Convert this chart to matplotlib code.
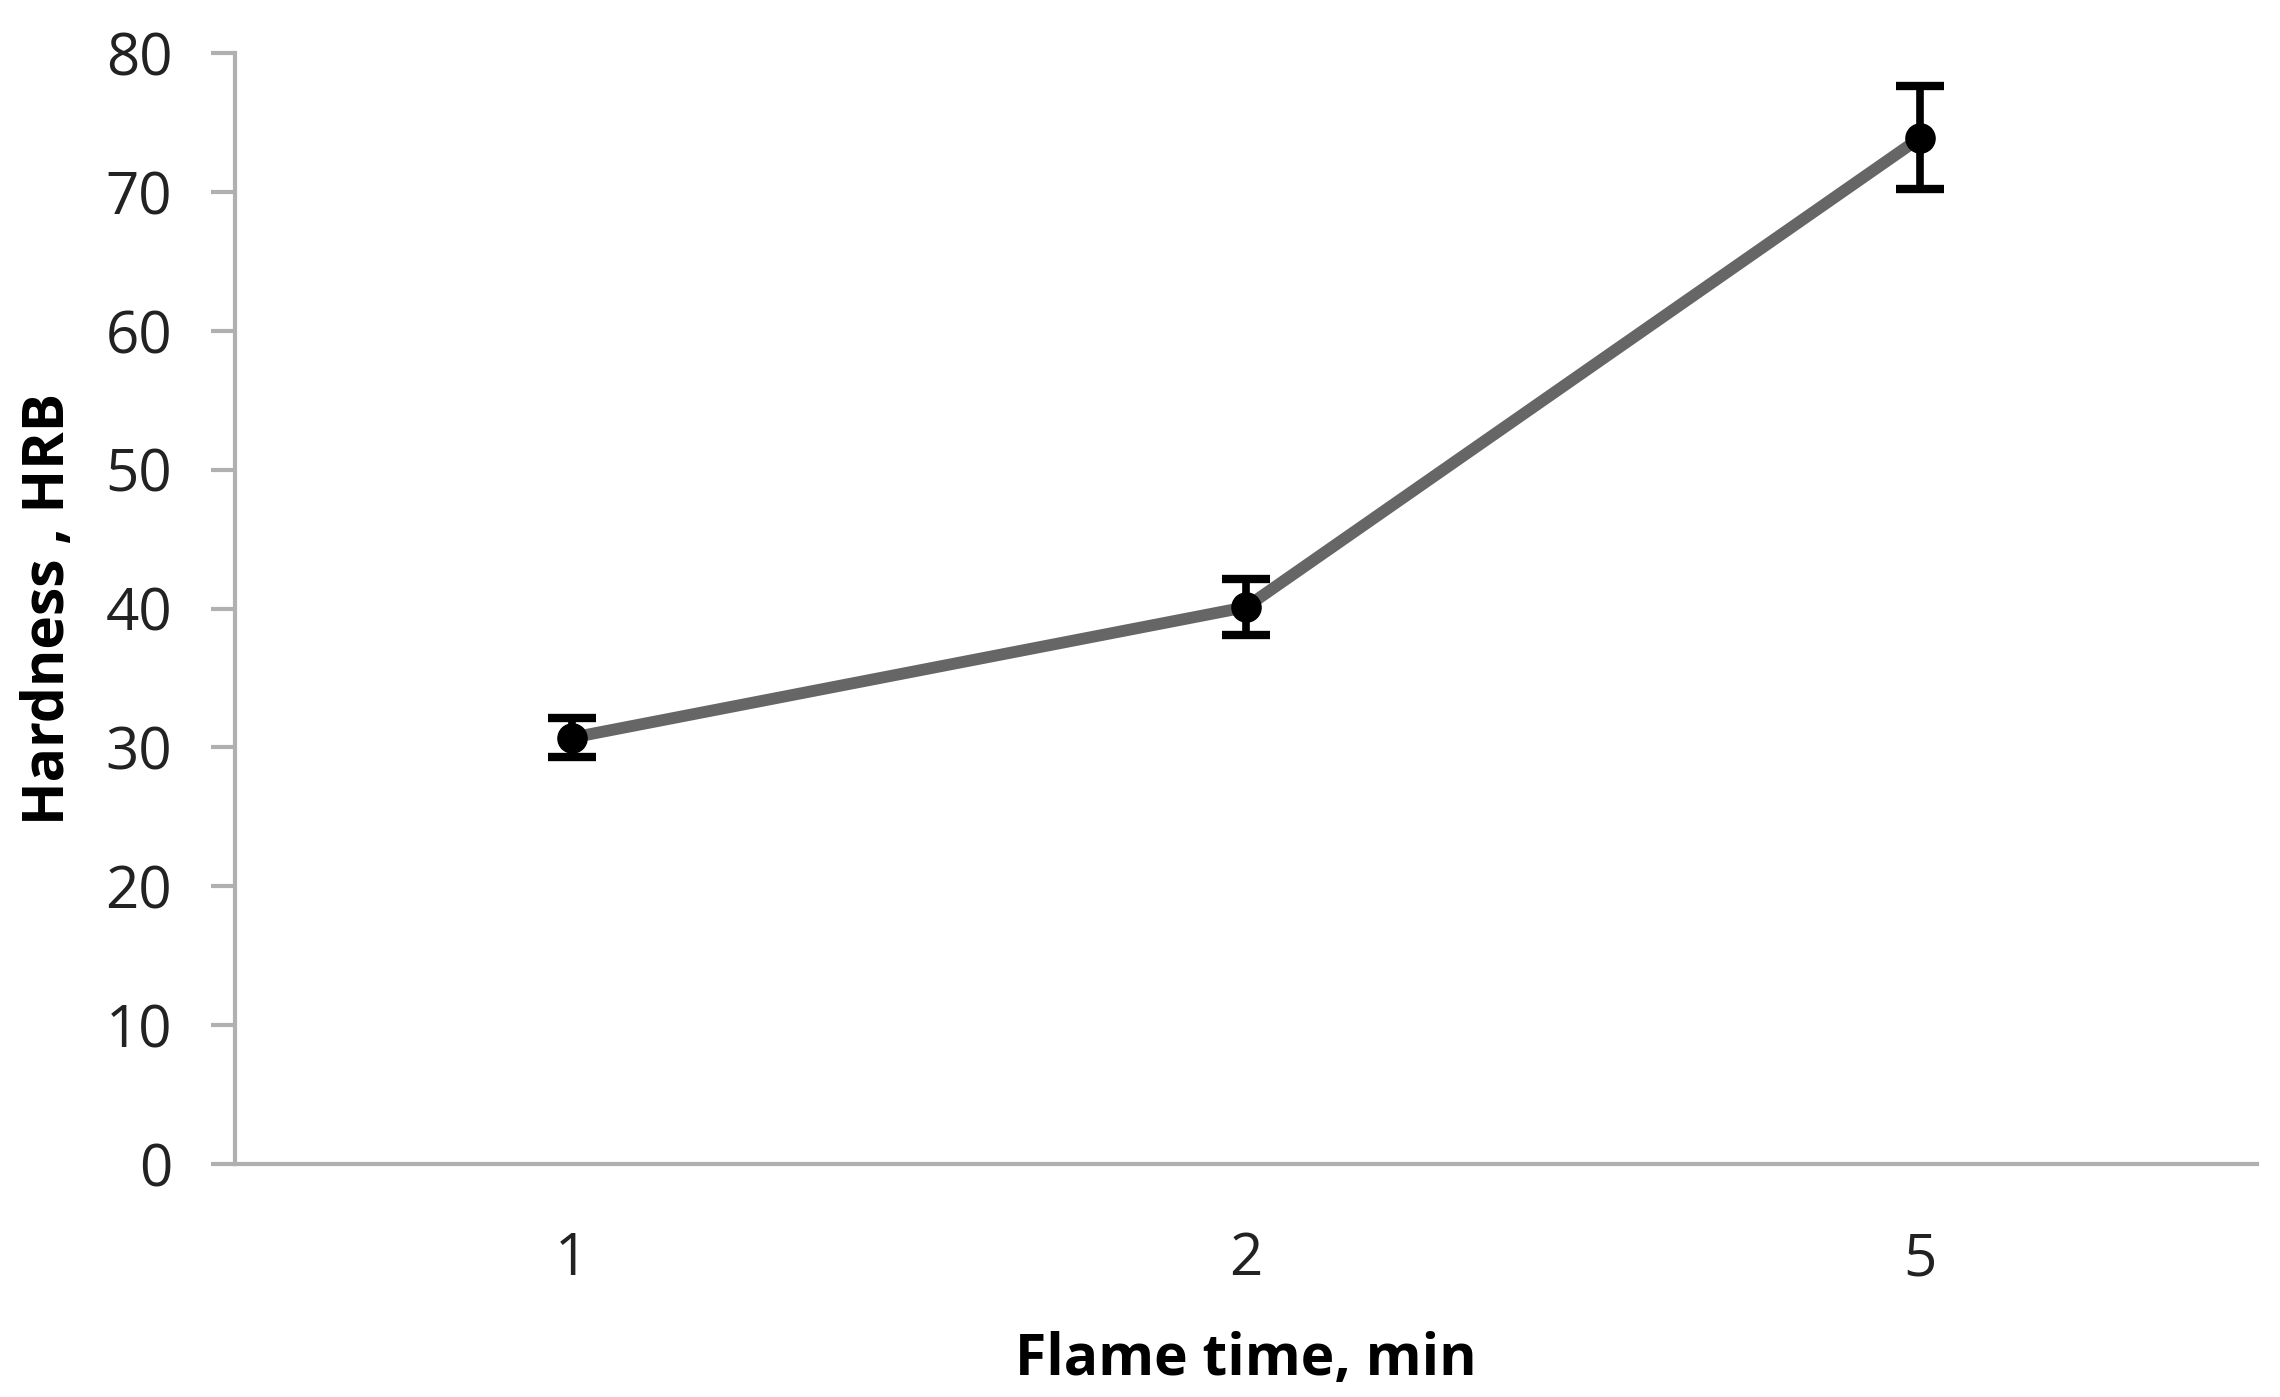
import matplotlib.pyplot as plt

# flame time categories and hardness readings
flame_time = ['1', '2', '5']
hardness = [30.7, 40.1, 73.9]
hardness_err = [1.4, 2.0, 3.7]
y_ticks = [0, 10, 20, 30, 40, 50, 60, 70, 80]

plt.rcParams['font.family'] = ['Open Sans', 'DejaVu Sans']

fig = plt.figure(figsize=(22.8, 13.97), dpi=100)
ax = fig.add_axes([0.103, 0.1668, 0.887, 0.7952])

x = range(len(flame_time))
ax.plot(x, hardness, color='#666666', linewidth=8.5, solid_capstyle='butt', zorder=2)
ax.errorbar(x, hardness, yerr=hardness_err, fmt='o', color='black',
            markersize=21, elinewidth=5.5, capsize=17, capthick=6, zorder=3)

ax.set_xlim(-0.5, 2.5)
ax.set_ylim(0, 80)
ax.set_xticks(list(x))
ax.set_xticklabels(flame_time)
ax.set_yticks(y_ticks)

for side in ['top', 'right']:
    ax.spines[side].set_visible(False)
for side in ['left', 'bottom']:
    ax.spines[side].set_color('#b0b0b0')
    ax.spines[side].set_linewidth(3)

ax.tick_params(axis='y', length=17, width=3, color='#b0b0b0', labelsize=42, pad=28, labelcolor='#222222')
ax.tick_params(axis='x', length=0, labelsize=42, pad=48, labelcolor='#222222')

ax.set_xlabel('Flame time, min', fontsize=41, fontweight='bold', labelpad=30)
ax.set_ylabel('Hardness , HRB', fontsize=41, fontweight='bold', labelpad=20)

fig.savefig('out.png', dpi=100)
